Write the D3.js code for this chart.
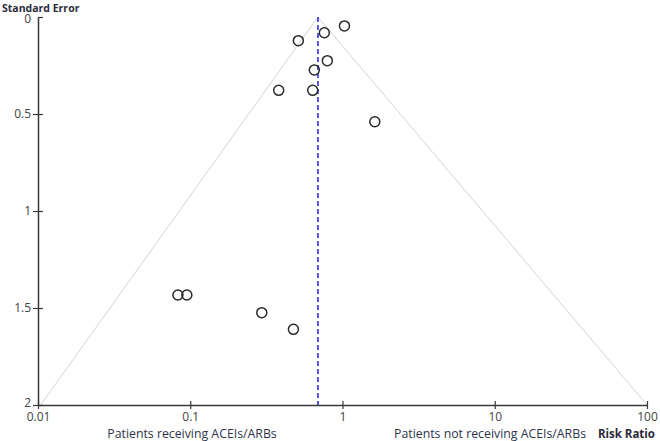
<!DOCTYPE html>
<html lang="en">
<head>
<meta charset="UTF-8"/>
<title>Funnel plot</title>
<script src="https://d3js.org/d3.v7.min.js"></script>
<style>
  body { margin: 0; background: #fff; }
  svg text { font-family: "Open Sans", "DejaVu Sans", sans-serif; }
</style>
</head>
<body>
<script>
    // study estimates
    var riskRatio = [1.03, 0.76, 0.513, 0.795, 0.653, 0.381, 0.637, 1.63, 0.083, 0.095, 0.295, 0.476];
    var stdError  = [0.046, 0.081, 0.122, 0.225, 0.273, 0.378, 0.378, 0.54, 1.433, 1.433, 1.524, 1.61];
    var pooledRR = 0.69;
    var funnelLeft = [0.0104, 2];
    var funnelRight = [100, 2];
    var xTicks = [0.01, 0.1, 1, 10, 100];
    var xTickLabels = ["0.01", "0.1", "1", "10", "100"];
    var yTicks = [0, 0.5, 1, 1.5, 2];

    var w = 660, h = 441;

    var xScale = d3.scaleLog()
                    .domain([0.01, 100])
                    .range([38, 647]);

    var yScale = d3.scaleLinear()
                    .domain([0, 2])
                    .range([17, 405]);

    var svg = d3.select("body")
                .append("svg")
                .attr("width", w)
                .attr("height", h);

    // funnel lines
    svg.append("path")
       .attr("d", d3.line()([
            [xScale(funnelLeft[0]), yScale(funnelLeft[1])],
            [xScale(pooledRR), yScale(0)],
            [xScale(funnelRight[0]), yScale(funnelRight[1])]
       ]))
       .attr("fill", "none")
       .attr("stroke", "#d4d4d4")
       .attr("stroke-width", 1);

    // pooled estimate
    svg.append("line")
       .attr("x1", xScale(pooledRR))
       .attr("x2", xScale(pooledRR))
       .attr("y1", yScale(0))
       .attr("y2", yScale(2))
       .attr("stroke", "#2222dd")
       .attr("stroke-width", 1.5)
       .attr("stroke-dasharray", "5,3");

    // axes
    var xAxis = d3.axisBottom(xScale)
                  .tickValues(xTicks)
                  .tickFormat(function(d, i) { return xTickLabels[i]; })
                  .tickSizeInner(5)
                  .tickSizeOuter(0);

    var yAxis = d3.axisLeft(yScale)
                  .tickValues(yTicks)
                  .tickFormat(function(d) { return d; })
                  .tickSizeInner(5)
                  .tickSizeOuter(0);

    var gx = svg.append("g")
       .attr("transform", "translate(0," + yScale(2) + ")")
       .call(xAxis);

    var gy = svg.append("g")
       .attr("transform", "translate(" + xScale(0.01) + ",0)")
       .call(yAxis);

    [gx, gy].forEach(function(g) {
        g.select(".domain").attr("stroke", "#3a3a3a").attr("stroke-width", 1.5);
        g.selectAll(".tick line").attr("stroke", "#3a3a3a").attr("stroke-width", 1.2);
        g.selectAll(".tick text")
         .attr("fill", "#444")
         .attr("font-size", 12)
         .attr("font-family", "\"Open Sans\", \"DejaVu Sans\", sans-serif");
    });

    // ticks cross the axis
    gx.selectAll(".tick line").attr("y1", -4).attr("y2", 4);
    gx.selectAll(".tick text").attr("y", 7);
    gy.selectAll(".tick line").attr("x1", 5).attr("x2", function(d) { return d === 0 ? 0 : -5; });
    gy.selectAll(".tick text")
      .attr("x", -7)
      .attr("dy", function(d) { return d === 2 ? "0.1em" : (d === 0 ? "0.42em" : "0.32em"); });

    // studies
    svg.selectAll("circle")
       .data(riskRatio)
       .enter()
       .append("circle")
       .attr("cx", function(d) { return xScale(d); })
       .attr("cy", function(d, i) { return yScale(stdError[i]); })
       .attr("r", 5)
       .attr("fill", "none")
       .attr("stroke", "#2a2a2a")
       .attr("stroke-width", 1.5);

    // titles
    svg.append("text")
       .attr("x", 2)
       .attr("y", 11.5)
       .attr("font-size", 10.5)
       .attr("font-weight", "bold")
       .attr("fill", "#2a2a3a")
       .text("Standard Error");

    svg.append("text")
       .attr("x", 192)
       .attr("y", 437.5)
       .attr("text-anchor", "middle")
       .attr("font-size", 12.3)
       .attr("fill", "#2e3448")
       .text("Patients receiving ACEIs/ARBs");

    svg.append("text")
       .attr("x", 586)
       .attr("y", 437.5)
       .attr("text-anchor", "end")
       .attr("font-size", 12.3)
       .attr("fill", "#2e3448")
       .text("Patients not receiving ACEIs/ARBs");

    svg.append("text")
       .attr("x", 655)
       .attr("y", 437.5)
       .attr("text-anchor", "end")
       .attr("font-size", 11.5)
       .attr("font-weight", "bold")
       .attr("fill", "#2a2a3a")
       .text("Risk Ratio");
</script>
</body>
</html>
